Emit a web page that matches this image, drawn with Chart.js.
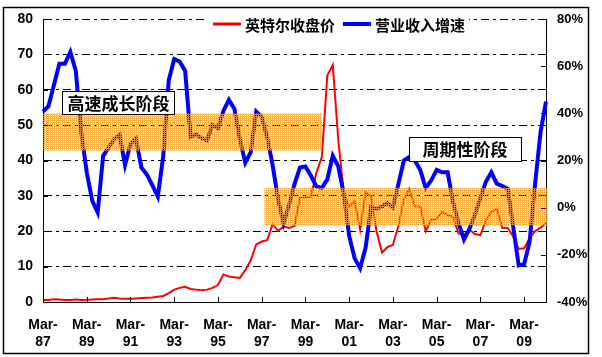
<!DOCTYPE html>
<html>
<head>
<meta charset="utf-8">
<script src="https://cdn.jsdelivr.net/npm/chart.js@4/dist/chart.umd.min.js"></script>
<style>
  html, body { margin: 0; padding: 0; background: #fff; }
  #c { display: block; }
</style>
</head>
<body>
<canvas id="c" width="602" height="357"></canvas>
<script>
// ---- data ----
const categories = ("Mar-87 Jun-87 Sep-87 Dec-87 Mar-88 Jun-88 Sep-88 Dec-88 Mar-89 Jun-89 Sep-89 Dec-89 " +
  "Mar-90 Jun-90 Sep-90 Dec-90 Mar-91 Jun-91 Sep-91 Dec-91 Mar-92 Jun-92 Sep-92 Dec-92 " +
  "Mar-93 Jun-93 Sep-93 Dec-93 Mar-94 Jun-94 Sep-94 Dec-94 Mar-95 Jun-95 Sep-95 Dec-95 " +
  "Mar-96 Jun-96 Sep-96 Dec-96 Mar-97 Jun-97 Sep-97 Dec-97 Mar-98 Jun-98 Sep-98 Dec-98 " +
  "Mar-99 Jun-99 Sep-99 Dec-99 Mar-00 Jun-00 Sep-00 Dec-00 Mar-01 Jun-01 Sep-01 Dec-01 " +
  "Mar-02 Jun-02 Sep-02 Dec-02 Mar-03 Jun-03 Sep-03 Dec-03 Mar-04 Jun-04 Sep-04 Dec-04 " +
  "Mar-05 Jun-05 Sep-05 Dec-05 Mar-06 Jun-06 Sep-06 Dec-06 Mar-07 Jun-07 Sep-07 Dec-07 " +
  "Mar-08 Jun-08 Sep-08 Dec-08 Mar-09 Jun-09 Sep-09 Dec-09 Mar-10").split(" ");

const tickLabels = ["Mar-87","Mar-89","Mar-91","Mar-93","Mar-95","Mar-97","Mar-99","Mar-01","Mar-03","Mar-05","Mar-07","Mar-09"];

const seriesNames = ["英特尔收盘价", "营业收入增速"];

// Intel closing price (left axis)
const closePrice = [
  0.6,0.6,0.8,0.7,0.6,0.6,0.7,0.6,0.6,0.7,
  0.8,0.8,1.0,1.2,1.0,0.9,0.9,1.0,1.1,1.2,
  1.3,1.5,1.7,2.5,3.5,4.0,4.3,3.7,3.5,3.3,
  3.5,4.0,4.8,7.8,7.2,7.0,6.8,9.0,11.8,16.3,
  17.1,17.5,22.0,20.1,21.3,20.9,21.5,29.5,29.6,29.8,
  36.5,41.0,64.0,67.0,46.0,31.0,27.0,28.5,20.4,31.0,
  30.0,20.0,14.0,15.5,16.1,21.5,29.0,32.0,27.0,27.0,
  20.0,23.2,23.5,25.5,24.6,24.0,19.4,19.0,20.4,19.2,
  18.9,23.0,25.5,26.3,21.0,20.9,18.5,15.0,15.2,18.0,
  20.0,21.0,22.3
];

// Revenue growth, % (right axis)
const revenueGrowth = [
  40.7,43,52,61,61,66,58,32,15,3,
  -2,22,25.5,29,31,18,27,29.4,17,14,
  9.5,4.7,22,54,63,62,58,30,31,29.5,
  28.5,35,33.7,41,45.7,42,29,19,23.5,40.7,
  38.5,30,18,3.5,-6.6,1,10,17,17.5,13.5,
  9,8.3,12,22,17.5,6,-12,-21.5,-25.7,-17,
  0.2,-0.5,0.5,2,0,10,20,21.5,20,16,
  8.3,11.5,16,15,15,2.5,-6.5,-13.5,-9,-3,
  4,11,15,10.2,9.2,8,-8,-24.5,-24,-14.5,
  10,32,45
];

const phaseLabels = ["高速成长阶段", "周期性阶段"];

// ---- annotation layout (in axis units) ----
const bandsCfg = [
  { x0: 0, x1: 51, y0: 42.8, y1: 53.3 },
  { x0: 40.5, x1: 92.3, y0: 21.6, y1: 32.2 }
];
const boxesCfg = [
  { text: phaseLabels[0], xc: 13.8, yc: 56.5, w: 112, h: 23 },
  { text: phaseLabels[1], xc: 77.2, yc: 43.3, w: 112, h: 24 }
];

const LAT = '"Liberation Sans", Arial, sans-serif';
const CJK = '"Noto Sans CJK SC", "Liberation Sans", sans-serif';

function makePattern(ctx) {
  const p = document.createElement('canvas');
  p.width = 2; p.height = 2;
  const pc = p.getContext('2d');
  pc.fillStyle = 'rgba(255,160,20,0.8)';
  pc.fillRect(0, 0, 2, 1);
  pc.fillRect(0, 1, 1, 1);
  return ctx.createPattern(p, 'repeat');
}

const overlay = {
  id: 'overlay',
  afterDatasetsDraw(chart) {
    const ctx = chart.ctx, xs = chart.scales.x, ys = chart.scales.y;
    const pat = makePattern(ctx);
    ctx.save();
    bandsCfg.forEach(b => {
      const x0 = xs.getPixelForValue(b.x0), x1 = xs.getPixelForValue(b.x1);
      const y0 = ys.getPixelForValue(b.y1), y1 = ys.getPixelForValue(b.y0);
      ctx.fillStyle = pat;
      ctx.fillRect(x0, y0, x1 - x0, y1 - y0);
    });
    ctx.restore();
  },
  afterDraw(chart) {
    const ctx = chart.ctx, xs = chart.scales.x, ys = chart.scales.y, y1s = chart.scales.y1;
    const a = chart.chartArea;
    ctx.save();
    ctx.strokeStyle = '#000';
    ctx.lineWidth = 1;
    // inward tick marks
    ctx.beginPath();
    ys.ticks.forEach(t => {
      const y = Math.round(ys.getPixelForValue(t.value)) + 0.5;
      ctx.moveTo(a.left, y); ctx.lineTo(a.left + 5, y);
    });
    y1s.ticks.forEach(t => {
      const y = Math.round(y1s.getPixelForValue(t.value)) + 0.5;
      ctx.moveTo(a.right - 5, y); ctx.lineTo(a.right, y);
    });
    categories.forEach((c, i) => {
      if (tickLabels.includes(c)) {
        const x = Math.round(xs.getPixelForValue(i)) + 0.5;
        ctx.moveTo(x, a.bottom); ctx.lineTo(x, a.bottom - 5);
      }
    });
    ctx.stroke();

    // phase boxes
    boxesCfg.forEach(b => {
      const cx = xs.getPixelForValue(b.xc), cy = ys.getPixelForValue(b.yc);
      const x = Math.round(cx - b.w / 2) + 0.5, y = Math.round(cy - b.h / 2) + 0.5;
      ctx.fillStyle = '#fff';
      ctx.fillRect(x, y, b.w, b.h);
      ctx.strokeStyle = '#000';
      ctx.strokeRect(x, y, b.w, b.h);
      ctx.fillStyle = '#000';
      ctx.font = 'bold 17px ' + CJK;
      ctx.textAlign = 'center';
      ctx.textBaseline = 'middle';
      ctx.fillText(b.text, cx, cy + 1);
    });

    // legend
    const ly = 24;
    ctx.fillStyle = '#fff';
    ctx.fillRect(207, 14, 262, 20);
    const ds = chart.data.datasets;
    ctx.font = 'bold 15px ' + CJK;
    ctx.textAlign = 'left';
    ctx.textBaseline = 'middle';
    let lx = 213;
    ds.forEach((d, i) => {
      ctx.strokeStyle = d.borderColor;
      ctx.lineWidth = i === 0 ? 3 : 4;
      ctx.beginPath();
      ctx.moveTo(lx, ly); ctx.lineTo(lx + 28, ly);
      ctx.stroke();
      ctx.fillStyle = '#000';
      ctx.fillText(d.label, lx + 32, ly + 1);
      lx += 32 + ctx.measureText(d.label).width + 8;
    });

    // outer frame
    ctx.strokeStyle = '#000';
    ctx.lineWidth = 1.5;
    ctx.strokeRect(3.5, 7.5, 585, 346);
    ctx.restore();
  }
};

const tickFont = { family: LAT, size: 14, weight: 'bold' };

new Chart(document.getElementById('c'), {
  type: 'line',
  data: {
    labels: categories,
    datasets: [
      { label: seriesNames[0], data: closePrice, yAxisID: 'y', borderColor: '#ff0000', borderWidth: 2, pointRadius: 0, tension: 0, order: 2 },
      { label: seriesNames[1], data: revenueGrowth, yAxisID: 'y1', borderColor: '#0000ff', borderWidth: 4, pointRadius: 0, tension: 0, order: 1 }
    ]
  },
  options: {
    responsive: false,
    animation: false,
    layout: { padding: { top: 19, right: 0, bottom: 5, left: 0 } },
    plugins: { legend: { display: false }, tooltip: { enabled: false } },
    scales: {
      x: {
        type: 'category',
        offset: false,
        grid: { display: false, drawTicks: false },
        border: { display: true, color: '#000', width: 1 },
        ticks: {
          autoSkip: false, maxRotation: 0, minRotation: 0, padding: 15, color: '#000', font: tickFont,
          callback(v) {
            const l = this.getLabelForValue(v);
            return tickLabels.includes(l) ? [l.slice(0, 4), l.slice(4)] : '';
          }
        },
        afterFit(s) { s.height = 50; }
      },
      y: {
        position: 'left', min: 0, max: 80,
        grid: { drawTicks: false, lineWidth: 1, color: c => (c.tick && c.tick.value === 0) ? 'rgba(0,0,0,0)' : '#000' },
        border: { display: true, color: '#000', width: 1, dash: [8, 4, 3, 4] },
        ticks: { stepSize: 10, padding: 10, color: '#000', font: tickFont },
        afterFit(s) { s.width = 43; }
      },
      y1: {
        position: 'right', min: -40, max: 80,
        grid: { display: false, drawTicks: false },
        border: { display: true, color: '#000', width: 1 },
        ticks: { stepSize: 20, padding: 11, color: '#000', font: { family: LAT, size: 13, weight: 'bold' }, callback: v => v + '%' },
        afterFit(s) { s.width = 56; }
      }
    }
  },
  plugins: [overlay]
});
</script>
</body>
</html>
